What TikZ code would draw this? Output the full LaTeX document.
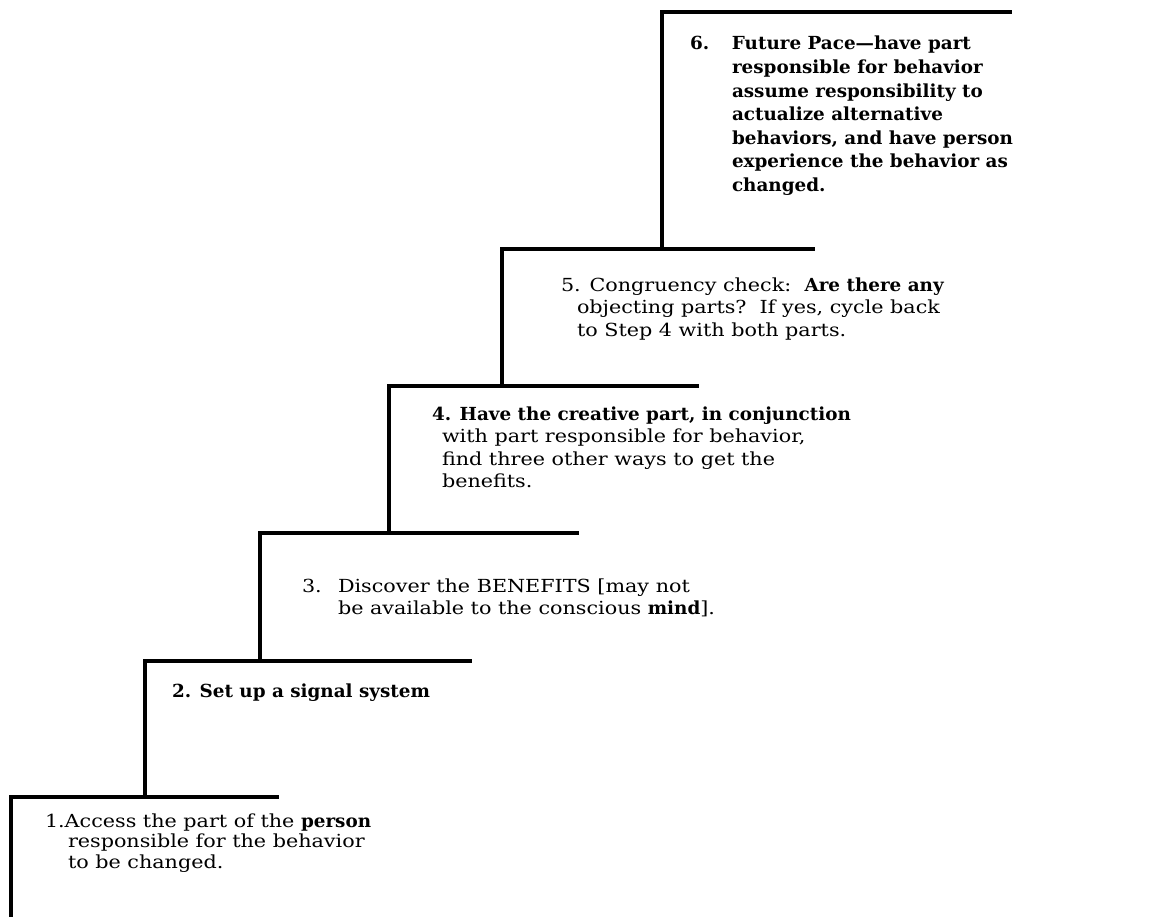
\documentclass[tikz,border=0pt]{standalone}
\usepackage{fontspec}
\setmainfont{DejaVu Serif}[UprightFeatures={FakeStretch=1.15},BoldFeatures={FakeStretch=1.02}]
\begin{document}
\begin{tikzpicture}[x=1pt,y=-1pt,
  stair/.style={line width=3.2pt,line cap=rect,line join=miter},
  steptext/.style={anchor=base west,inner sep=0pt,outer sep=0pt,
    font=\fontsize{18}{22.5}\selectfont}]
\useasboundingbox (0,0) rectangle (1151,917);
% staircase
\draw[stair] (11,917) -- (11,797) -- (277,797);
\draw[stair] (145,797) -- (145,661) -- (470,661);
\draw[stair] (260,661) -- (260,533) -- (577,533);
\draw[stair] (389,533) -- (389,386) -- (697,386);
\draw[stair] (502,386) -- (502,249) -- (813,249);
\draw[stair] (662,249) -- (662,12) -- (1010,12);
% texts
\node[steptext,font=\fontsize{18}{23.6}\selectfont\bfseries] (s6) at (690,50) {\begin{tabular}[t]{@{}l@{}}
\makebox[42pt][l]{6.}Future Pace---have part\\
\hspace*{42pt}responsible for behavior\\
\hspace*{42pt}assume responsibility to\\
\hspace*{42pt}actualize alternative\\
\hspace*{42pt}behaviors, and have person\\
\hspace*{42pt}experience the behavior as\\
\hspace*{42pt}changed.
\end{tabular}};
\node[steptext] (s5) at (561,291) {\begin{tabular}[t]{@{}l@{}}
5. Congruency check:\ \ \textbf{Are there any}\\
\hspace*{16pt}objecting parts?\ \ If yes, cycle back\\
\hspace*{16pt}to Step 4 with both parts.
\end{tabular}};
\node[steptext] (s4) at (432,420) {\begin{tabular}[t]{@{}l@{}}
\textbf{4. Have the creative part, in conjunction}\\
\hspace*{10pt}with part responsible for behavior,\\
\hspace*{10pt}find three other ways to get the\\
\hspace*{10pt}benefits.
\end{tabular}};
\node[steptext] (s3) at (302,592) {\begin{tabular}[t]{@{}l@{}}
\makebox[36pt][l]{3.}Discover the BENEFITS [may not\\
\hspace*{36pt}be available to the conscious \textbf{mind}].
\end{tabular}};
\node[steptext,font=\fontsize{18}{22.5}\selectfont\bfseries] (s2) at (172,697) {2. Set up a signal system};
\node[steptext,font=\fontsize{18}{20.5}\selectfont] (s1) at (45,827) {\begin{tabular}[t]{@{}l@{}}
1.Access the part of the \textbf{person}\\
\hspace*{23pt}responsible for the behavior\\
\hspace*{23pt}to be changed.
\end{tabular}};
\end{tikzpicture}
\end{document}
